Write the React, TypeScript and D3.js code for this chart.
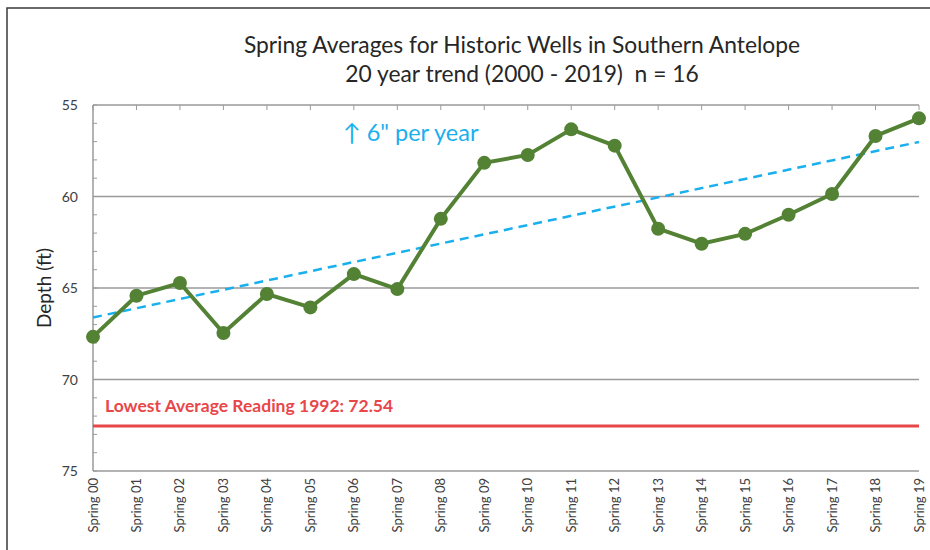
import React, { useEffect, useRef } from 'react';
import * as d3 from 'd3';

const categories = [
  'Spring 00', 'Spring 01', 'Spring 02', 'Spring 03', 'Spring 04',
  'Spring 05', 'Spring 06', 'Spring 07', 'Spring 08', 'Spring 09',
  'Spring 10', 'Spring 11', 'Spring 12', 'Spring 13', 'Spring 14',
  'Spring 15', 'Spring 16', 'Spring 17', 'Spring 18', 'Spring 19',
];
const depths = [
  67.67, 65.42, 64.73, 67.46, 65.33, 66.06, 64.24, 65.06, 61.22, 58.16,
  57.73, 56.33, 57.22, 61.76, 62.58, 62.04, 61.0, 59.86, 56.69, 55.73,
];
const yTicks = [55, 60, 65, 70, 75];
const gridValues = [60, 65, 70];
const lowestReading = 72.54;
const titleLines = [
  'Spring Averages for Historic Wells in Southern Antelope',
  '20 year trend (2000 - 2019)  n = 16',
];

export default function App() {
  const svgRef = useRef<SVGSVGElement>(null);

  useEffect(() => {
    const svg = d3.select(svgRef.current);
    svg.selectAll('*').remove();

    const W = 930, H = 550;
    const left = 93, right = 919, top = 105, bottom = 471;
    const font = 'Lato, "Open Sans", sans-serif';

    const x = d3.scalePoint<string>().domain(categories).range([left, right]);
    const y = d3.scaleLinear().domain([55, 75]).range([top, bottom]);

    svg.append('rect').attr('width', W).attr('height', H).attr('fill', '#fff');

    // outer frame
    svg.append('path')
      .attr('d', `M7,${H} L7,8 L${W},8`)
      .attr('fill', 'none')
      .attr('stroke', '#3a3a3a')
      .attr('stroke-width', 1.5);

    // title
    svg.append('g').selectAll('text')
      .data(titleLines)
      .join('text')
      .attr('x', 522)
      .attr('y', (d, i) => 53 + i * 29)
      .attr('text-anchor', 'middle')
      .attr('font-family', font)
      .attr('font-size', 22.8)
      .attr('fill', '#262626')
      .style('white-space', 'pre')
      .text(d => d);

    // grid
    svg.append('g').selectAll('line')
      .data(gridValues)
      .join('line')
      .attr('x1', left).attr('x2', right)
      .attr('y1', d => y(d)).attr('y2', d => y(d))
      .attr('stroke', '#9a9a9a')
      .attr('stroke-width', 1.5);

    // top & bottom axis lines
    [55, 75].forEach(v => {
      svg.append('line')
        .attr('x1', left).attr('x2', right)
        .attr('y1', y(v)).attr('y2', y(v))
        .attr('stroke', '#9a9a9a')
        .attr('stroke-width', 1.5);
    });

    // category ticks on top axis
    svg.append('g').selectAll('line')
      .data(categories)
      .join('line')
      .attr('x1', d => x(d)!).attr('x2', d => x(d)!)
      .attr('y1', top).attr('y2', top + 5)
      .attr('stroke', '#9a9a9a')
      .attr('stroke-width', 1);

    // left axis
    svg.append('line')
      .attr('x1', left).attr('x2', left)
      .attr('y1', top).attr('y2', bottom)
      .attr('stroke', '#9a9a9a')
      .attr('stroke-width', 1.5);
    svg.append('g').selectAll('line')
      .data(d3.range(55, 76, 1))
      .join('line')
      .attr('x1', left).attr('x2', left + 4)
      .attr('y1', d => y(d)).attr('y2', d => y(d))
      .attr('stroke', '#9a9a9a')
      .attr('stroke-width', 1);

    svg.append('g').selectAll('text')
      .data(yTicks)
      .join('text')
      .attr('x', 78)
      .attr('y', d => y(d) + 5)
      .attr('text-anchor', 'end')
      .attr('font-family', font)
      .attr('font-size', 14)
      .attr('fill', '#404040')
      .text(d => d);

    svg.append('text')
      .attr('transform', `translate(51,${(top + bottom) / 2}) rotate(-90)`)
      .attr('text-anchor', 'middle')
      .attr('font-family', font)
      .attr('font-size', 19)
      .attr('fill', '#262626')
      .text('Depth (ft)');

    // x labels
    svg.append('g').selectAll('text')
      .data(categories)
      .join('text')
      .attr('transform', d => `translate(${x(d)! + 4.5},${bottom + 7}) rotate(-90)`)
      .attr('text-anchor', 'end')
      .attr('font-family', font)
      .attr('font-size', 13)
      .attr('fill', '#404040')
      .text(d => d);

    // lowest reading line
    svg.append('line')
      .attr('x1', left).attr('x2', right)
      .attr('y1', y(lowestReading)).attr('y2', y(lowestReading))
      .attr('stroke', '#e8474a')
      .attr('stroke-width', 3);
    svg.append('text')
      .attr('x', 105)
      .attr('y', y(lowestReading) - 14)
      .attr('font-family', font)
      .attr('font-weight', 'bold')
      .attr('font-size', 17.5)
      .attr('fill', '#e8474a')
      .text(`Lowest Average Reading 1992: ${lowestReading}`);

    // linear trend from data
    const idx = depths.map((_, i) => i);
    const mx = d3.mean(idx)!, my = d3.mean(depths)!;
    const slope = d3.sum(idx, i => (i - mx) * (depths[i] - my)) / d3.sum(idx, i => (i - mx) ** 2);
    const intercept = my - slope * mx;
    const trend = [0, categories.length - 1].map(i => [x(categories[i])!, y(intercept + slope * i)] as [number, number]);
    svg.append('path')
      .attr('d', d3.line()(trend))
      .attr('fill', 'none')
      .attr('stroke', '#1ab0ee')
      .attr('stroke-width', 2.5)
      .attr('stroke-dasharray', '9,6');

    svg.append('text')
      .attr('x', 343)
      .attr('y', 141)
      .attr('font-family', font)
      .attr('font-size', 23.5)
      .attr('fill', '#1ab0ee')
      .text('\u2191 6" per year');

    // data series
    const pts = categories.map((c, i) => [x(c)!, y(depths[i])] as [number, number]);
    svg.append('path')
      .attr('d', d3.line()(pts))
      .attr('fill', 'none')
      .attr('stroke', '#548235')
      .attr('stroke-width', 4);
    svg.append('g').selectAll('circle')
      .data(pts)
      .join('circle')
      .attr('cx', d => d[0])
      .attr('cy', d => d[1])
      .attr('r', 7)
      .attr('fill', '#548235');
  }, []);

  return (
    <svg
      ref={svgRef}
      width={930}
      height={550}
      style={{ position: 'absolute', left: 0, top: 0 }}
    />
  );
}
